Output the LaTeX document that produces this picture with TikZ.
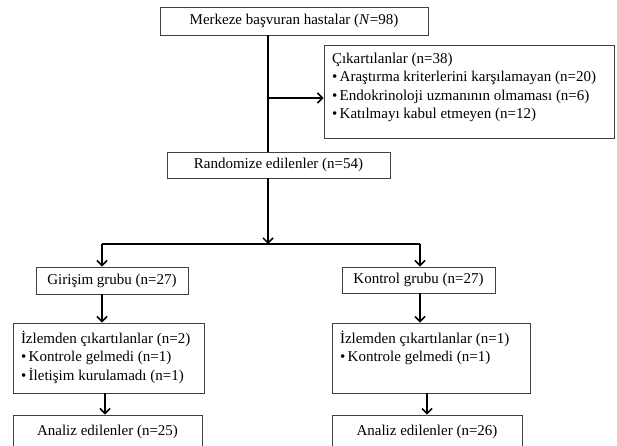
\documentclass[tikz,border=0pt]{standalone}
\usepackage{fontspec}
\setmainfont{Liberation Serif}
\usetikzlibrary{arrows.meta}
\newcommand{\toplist}[3]{\parbox[c][#1][t]{#2}{\vspace*{4pt}#3}}
\tikzset{
	box/.style={draw=black!75,line width=0.9pt,rectangle,inner sep=0pt,font=\fontsize{15}{18.5}\selectfont},
	listbox/.style={box,inner xsep=8pt,inner ysep=4pt},
	conn/.style={line width=1.5pt},
	arr/.style={conn,-{Straight Barb[length=5pt,width=10pt,line width=1.5pt]}}
}
\begin{document}
\begin{tikzpicture}[x=1pt,y=-1pt]
	\useasboundingbox (0,0) rectangle (617,446);
	\node[box,minimum width=268,minimum height=28] (merkez) at (294,21) {Merkeze başvuran hastalar (\textit{N}=98)};
	\node[listbox] (excl) at (469,91.5) {\toplist{85pt}{274pt}{Çıkartılanlar (n=38)\\
		\textbullet\,Araştırma kriterlerini karşılamayan (n=20)\\
		\textbullet\,Endokrinoloji uzmanının olmaması (n=6)\\
		\textbullet\,Katılmayı kabul etmeyen (n=12)}};
	\node[box,minimum width=223,minimum height=26] (random) at (278.5,165) {Randomize edilenler (n=54)};
	\node[box,minimum width=152,minimum height=27] (girisim) at (112,280.5) {Girişim grubu (n=27)};
	\node[box,minimum width=153,minimum height=26] (kontrol) at (418.5,280) {Kontrol grubu (n=27)};
	\node[listbox] (izlemL) at (108.5,358) {\toplist{62pt}{175pt}{İzlemden çıkartılanlar (n=2)\\
		\textbullet\,Kontrole gelmedi (n=1)\\
		\textbullet\,İletişim kurulamadı (n=1)}};
	\node[listbox] (izlemR) at (431,358) {\toplist{62pt}{182pt}{İzlemden çıkartılanlar (n=1)\\
		\textbullet\,Kontrole gelmedi (n=1)}};
	\node[box,minimum width=189,minimum height=34] (analizL) at (107.5,432) {Analiz edilenler (n=25)};
	\node[box,minimum width=190,minimum height=34] (analizR) at (427,432) {Analiz edilenler (n=26)};
	\coordinate (side) at (268,98);
	\coordinate (split) at (268,244);
	\coordinate (lsplit) at (102,244);
	\coordinate (rsplit) at (420,244);
	\draw[conn] (merkez.south -| side) to (random.north -| side);
	\draw[arr] (side) to (excl.west |- side);
	\draw[arr] (random.south -| split) to (split);
	\draw[conn] (lsplit) to (rsplit);
	\draw[arr] (lsplit) to (girisim.north -| lsplit);
	\draw[arr] (rsplit) to (kontrol.north -| rsplit);
	\draw[arr] (girisim.south -| lsplit) to (izlemL.north -| lsplit);
	\draw[arr] (kontrol.south -| rsplit) to (izlemR.north -| rsplit);
	\draw[arr] ([xshift=-3.5pt]izlemL.south) to ([xshift=-3.5pt]izlemL.south |- analizL.north);
	\draw[arr] ([xshift=-4pt]izlemR.south) to ([xshift=-4pt]izlemR.south |- analizR.north);
\end{tikzpicture}
\end{document}
